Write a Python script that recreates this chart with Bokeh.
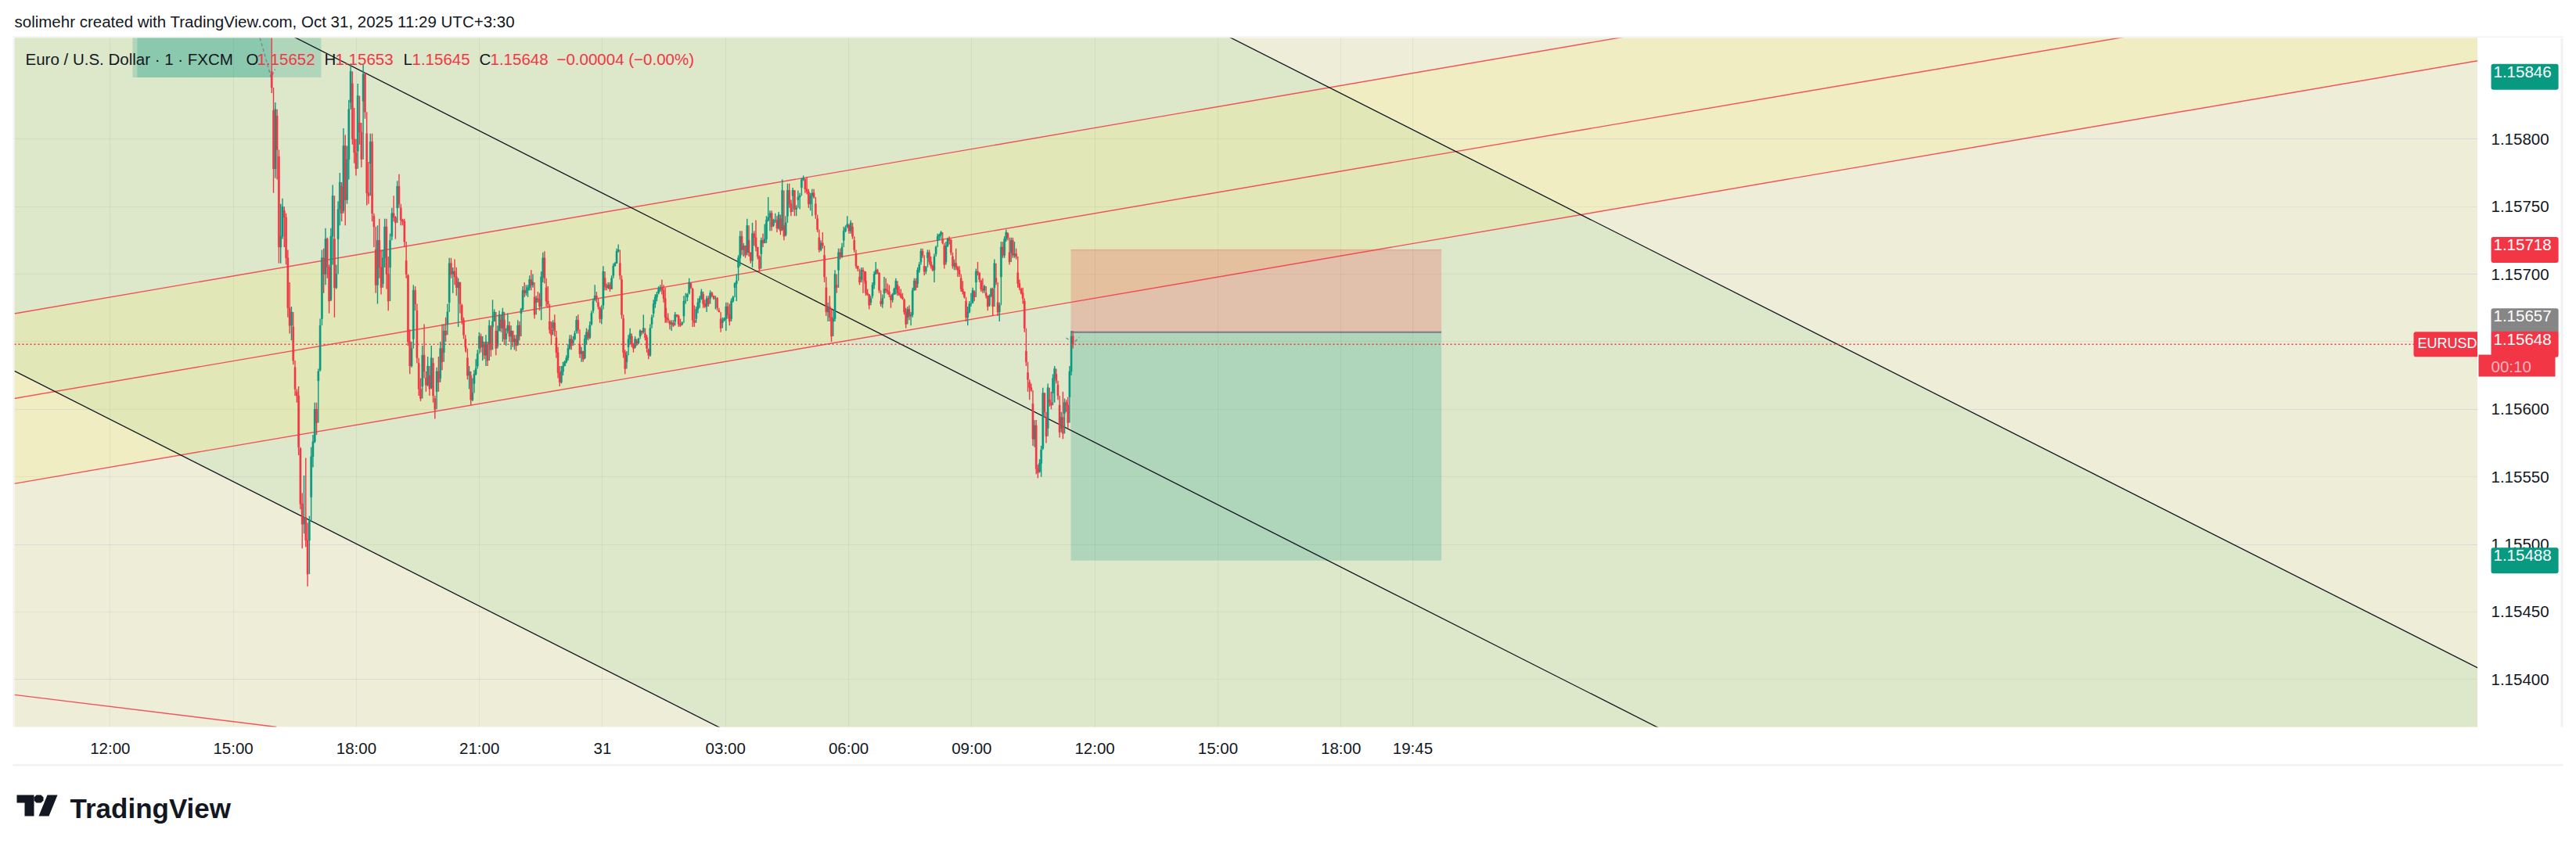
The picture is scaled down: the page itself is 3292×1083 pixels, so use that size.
from bokeh.core.properties import value
from bokeh.embed import file_html
from bokeh.layouts import column, row
from bokeh.models import ColumnDataSource, FixedTicker, Grid, Label, PolyAnnotation, Range1d, Span
from bokeh.plotting import figure
from bokeh.resources import INLINE

# prices are kept as points above 1.15000 (652 -> 1.15652), time as hours from Oct 30 00:00
a_high = [875,821,827,817,787,752,756,747,745,718, 694,676,661,631,613,617,571,538,551,564, 516,521,572,581,605,605,630,667,718,719,
          734,727,707,734,766,726,707,754,775,765, 808,803,795,829,855,841,823,800,841,812, 812,855,849,804,783,804,804,743,718,736,
          741,718,718,741,741,713,730,749,758,743, 769,774,749,741,741,710,699,659,650,692, 691,673,634,623,647,663,623,639,625,647,
          634,608,631,639,650,663,663,668,678,712, 712,705,711,705,697,694,677,668,652]
a_low = [834,760,771,770,708,708,726,720,707,668, 656,651,633,610,605,566,526,497,508,498, 469,503,535,557,575,581,621,629,667,686,
         692,697,671,681,707,668,689,726,736,739, 747,736,752,770,827,796,782,773,791,796, 779,828,815,751,752,782,739,720,686,678,
         697,685,693,705,689,673,705,728,739,726, 749,749,736,736,720,697,647,626,631,652, 673,634,610,606,617,623,613,617,610,616,
         605,593,613,613,623,629,642,650,663,679, 697,686,692,684,661,671,663,652,643]
a_close = [838,778,822,792,720,728,750,742,712,675, 662,672,636,615,610,572,530,515,520,503, 478,518,565,576,600,590,628,662,712,700,
           726,705,680,728,758,690,700,748,768,745, 795,755,785,822,850,800,790,778,832,805, 785,848,820,760,758,798,745,735,692,725,
           705,690,712,735,700,680,725,745,742,738, 765,752,740,739,724,700,650,632,645,688, 678,638,615,608,640,628,618,632,615,638,
           610,600,628,620,645,635,658,655,672,708, 700,702,698,690,694,678,666,655,646]

b_high = [652,638,632,625,623,629,637,644,657,656, 654,648,655,648,666,661,681,674,658,662, 673,666,675,666,660,671,665,662,658,655,
          655,666,665,675,691,694,692,692,699,703, 700,683,684,687,686,702,716,717,690,691, 665,665,666,670,653,646,632,632,635,636,
          640,648,655,655,654,658,669,670,648,646, 643,655,660,659,665,673,682,692,687,679, 675,677,706,697,693,694,694,699,708,709,
          719,722,708,696,667,644,643,655,660,654, 649,654,650,653,659,658,670,656,655,644, 663,670,681,685,687,691,692,696,692,690]
b_low = [642,622,615,603,606,619,625,632,645,642, 636,637,632,632,648,639,661,665,640,647, 658,657,650,648,647,658,650,644,646,644,
         643,648,651,671,673,683,684,683,688,688, 690,667,679,679,673,666,694,693,676,675, 656,648,660,654,638,623,617,619,625,632,
         634,636,644,644,649,652,658,656,638,635, 635,638,648,651,652,663,673,681,679,674, 664,663,677,688,688,689,687,689,699,706,
         708,716,696,667,638,626,635,646,648,646, 642,646,647,648,654,655,656,651,642,637, 639,663,671,675,680,686,687,685,679,664]
b_close = [645,625,628,607,612,626,630,641,654,646, 650,640,650,636,662,644,665,672,645,658, 670,660,672,652,656,662,654,658,650,652,
           647,662,654,674,688,686,688,690,696,692, 694,670,682,681,676,698,712,697,680,678, 659,655,664,658,642,627,620,628,632,635,
           638,645,652,647,651,656,666,659,641,643, 637,652,657,653,662,671,680,684,682,676, 667,674,702,691,690,692,689,697,706,708,
           717,718,699,670,642,630,640,652,656,648, 645,652,649,652,658,657,660,653,645,640, 660,668,678,683,685,689,690,688,682,668]

c_high = [675,671,665,666,666,672,670,670,667,665, 684,686,686,697,693,689,677,676,682,684, 689,685,681,684,684,688,687,684,684,683,
          673,667,668,668,679,679,678,682,684,694, 700,714,732,732,723,721,741,725,716,738, 732,740,720,714,727,730,737,743,757,747,
          747,741,745,743,746,741,770,736,743,767, 767,755,764,762,751,762,760,771,773,770, 772,763,760,763,763,752,741,727,725,731,
          714,690,679,684,675,673,703,692,719,719, 723,735,736,743,736,740,735,725,715,706, 698,705,705,702]
c_low = [664,664,659,658,661,665,668,661,661,663, 669,678,683,686,689,661,661,667,671,675, 681,675,675,672,676,682,683,681,674,673,
         672,657,664,665,658,667,662,667,679,690, 680,705,706,714,713,712,716,713,708,705, 721,717,711,701,715,720,723,723,739,732,
         732,736,738,731,733,729,733,725,729,743, 749,743,758,743,743,755,748,764,769,760, 759,749,747,743,756,741,731,716,717,719,
         694,669,665,665,650,665,665,686,703,711, 712,725,731,735,730,730,726,716,704,702, 692,696,686,693]
c_close = [667,666,663,664,662,670,669,663,662,664, 680,680,685,694,690,666,664,674,679,682, 687,678,676,682,678,686,684,682,682,675,
           672,660,666,667,676,670,665,680,683,693, 695,712,728,718,721,714,736,716,710,730, 727,720,713,704,725,723,726,740,742,745,
           735,740,740,734,744,732,762,728,738,762, 752,746,762,748,749,757,758,770,771,763, 761,752,758,760,757,744,733,718,723,721,
           698,672,676,668,654,667,700,690,716,713, 720,732,734,737,732,738,728,718,706,704, 694,703,702,695]

d_high = [702,689,685,684,694,702,709,704,701,680, 685,698,697,693,692,684,686,690,697,692, 691,689,686,681,675,676,677,672,690,697,
          697,705,709,719,719,706,706,718,718,713, 707,715,721,730,730,732,726,721,724,727, 728,726,713,711,719,706,706,697,695,687,
          680,676,680,686,690,687,704,709,701,695, 697,692,686,684,685,690,690,711,697,679, 679,724,724,728,733,730,716,727,727,724,
          719,701,696,689,690,680,643,627,620,619, 604,592,592,559,563,573,616,612,594,619, 607,613,626,632,626,618,603,598,613,608,
          607,609,632,658,658]
d_low = [684,684,674,679,684,689,700,700,686,676, 675,686,686,685,683,675,679,685,685,684, 684,682,681,670,660,668,666,662,668,688,
         688,693,701,709,712,699,700,712,707,704, 702,694,715,725,725,726,722,704,709,720, 722,714,704,703,703,698,698,687,685,682,
         665,662,671,676,679,680,694,699,694,687, 686,686,682,673,677,683,669,690,692,669, 665,698,712,712,724,725,707,716,712,712,
         711,690,688,685,678,657,632,613,607,613, 573,572,552,549,554,550,571,594,575,586, 602,600,612,605,619,607,579,586,578,597,
         598,586,609,625,645]
d_close = [686,685,677,682,692,700,703,701,688,678, 682,689,688,687,685,681,685,689,695,686, 685,683,682,672,663,674,669,670,688,695,
           690,703,707,717,714,702,705,716,709,706, 703,713,720,728,729,731,723,707,721,726, 725,716,706,708,705,703,700,689,687,683,
           668,672,678,678,688,683,702,701,696,689, 688,691,684,676,684,689,676,708,694,672, 677,720,714,726,731,727,709,725,714,715,
           713,693,690,686,682,660,635,622,616,614, 578,588,556,553,560,570,612,598,580,616, 605,603,623,630,621,610,583,594,582,605,
           603,590,628,654,648]

first_open = 850
# hand-read span of each stretch of candles on the time axis
a_span = (15.937, 20.659)
b_span = (20.668, 25.530)
c_span = (25.555, 30.394)
d_span = (30.418, 35.467)

time_ticks = [12, 15, 18, 21, 24, 27, 30, 33, 36, 39, 42, 43.75]
time_labels = ["12:00", "15:00", "18:00", "21:00", "31", "03:00", "06:00", "09:00", "12:00", "15:00", "18:00", "19:45"]
price_ticks = [1.154, 1.1545, 1.155, 1.1555, 1.156, 1.1565, 1.157, 1.1575, 1.158]

black_x = [9.667, 69.71]
black_upper = [1.163298, 1.154086]
black_middle = [1.159803, 1.150572]
black_lower = [1.156283, 1.147065]
red_upper = [1.156708, 1.159842]
red_middle = [1.156080, 1.159203]
red_lower = [1.155450, 1.158579]
red_short_x = [9.667, 16.05]
red_short_y = [1.153887, 1.153649]

entry_price = 1.15657
stop_price = 1.15718
target_price = 1.15488
last_price = 1.15648
position_x = (35.416, 44.449)
corner_x1 = (12.546, 17.143)
corner_x2 = (12.66, 15.92)
corner_bottom = 1.158455
arrow_a_x = [15.65, 15.923, 16.02]
arrow_a_y = [1.158748, 1.158455, 1.158517]
arrow_b_x = [35.30, 35.49, 35.62]
arrow_b_y = [1.156528, 1.156491, 1.156533]

GREEN = "#089981"
RED = "#f23645"
INK = "#131722"
EDGE = "#f2f2f2"
FONT = "Liberation Sans"


def bars(span, high, low, close, prev):
    n = len(close)
    step = (span[1] - span[0]) / (n - 1)
    rows = []
    for i in range(n):
        o = min(max(prev, low[i]), high[i])
        rows.append((span[0] + i * step, high[i], low[i], o, close[i], prev))
        prev = close[i]
    return rows, prev


rows = []
prev = first_open
for span, hi, lo, cl in [(a_span, a_high, a_low, a_close), (b_span, b_high, b_low, b_close),
                         (c_span, c_high, c_low, c_close), (d_span, d_high, d_low, d_close)]:
    part, prev = bars(span, hi, lo, cl, prev)
    rows += part


def px(v):
    return 1.15 + v / 100000


up = [r for r in rows if r[4] >= r[3]]
down = [r for r in rows if r[4] < r[3]]


def src(part):
    return ColumnDataSource(dict(
        x=[r[0] for r in part],
        top=[px(max(r[1], r[5])) for r in part],
        bottom=[px(min(r[2], r[5])) for r in part],
        body_top=[px(max(r[3], r[4])) for r in part],
        body_bottom=[px(min(r[3], r[4])) for r in part],
    ))


def blank(width, height):
    f = figure(width=width, height=height, output_backend="svg", toolbar_location=None,
               x_axis_location=None, y_axis_location=None, x_range=Range1d(0, 1), y_range=Range1d(0, 1),
               background_fill_color="white", border_fill_color="white", min_border=0)
    f.outline_line_color = None
    f.grid.visible = False
    return f


def label(f, text, x, y, color=INK, size="20.5px", y_units="canvas", **kw):
    f.add_layout(Label(x=x, y=y, x_units="canvas", y_units=y_units, text=text, text_color=color,
                       text_font=FONT, text_font_size=size, text_baseline="middle", **kw))


def poly(f, xs, ys, col, place=None):
    shape = PolyAnnotation(xs=xs, ys=ys, xs_units="canvas", ys_units="canvas",
                           fill_color=col, fill_alpha=1, line_color=None)
    if place:
        f.add_layout(shape, place)
    else:
        f.add_layout(shape)


# main pane, the time axis lives under it
p = figure(width=3148, height=928, output_backend="svg", toolbar_location=None,
           x_range=Range1d(9.667, 69.71), y_range=Range1d(1.153649, 1.158748),
           y_axis_location=None, background_fill_color="#eeeed8", border_fill_color="white",
           min_border_left=0, min_border_right=0, min_border_top=0, min_border_bottom=47)
p.outline_line_color = None

p.xaxis.ticker = FixedTicker(ticks=time_ticks)
p.xaxis.major_label_overrides = dict(zip(time_ticks, time_labels))
ax = p.xaxis[0]
ax.axis_line_color = None
ax.major_tick_line_color = None
ax.minor_tick_line_color = None
ax.major_label_text_font = FONT
ax.major_label_text_font_size = "20.5px"
ax.major_label_text_color = INK
ax.major_label_standoff = 9
p.xgrid[0].visible = True
price_grid = Grid(dimension=1, ticker=FixedTicker(ticks=price_ticks))
p.add_layout(price_grid)
for g in [p.xgrid[0], price_grid]:
    g.grid_line_color = "#2a2e39"
    g.grid_line_alpha = 0.06
    g.level = "guide"

# channels
p.patch(black_x + black_x[::-1], black_upper + black_lower[::-1], color="#dde7ca", line_color=None)
p.patch(black_x + black_x[::-1], red_upper + red_lower[::-1], color="#ffee53", alpha=0.15, line_color=None)

# long/short position boxes and the two boxes behind the legend
p.quad(left=[position_x[0]], right=[position_x[1]], top=[stop_price], bottom=[entry_price], color=RED, alpha=0.22, line_color=None)
p.quad(left=[position_x[0]], right=[position_x[1]], top=[entry_price], bottom=[target_price], color=GREEN, alpha=0.215, line_color=None)
p.line(position_x, [entry_price, entry_price], color="#787b86", line_width=2)
p.line(position_x, [stop_price, stop_price], color=RED, alpha=0.25, line_width=1.5)
p.quad(left=[corner_x1[0]], right=[corner_x1[1]], top=[1.159], bottom=[corner_bottom], color=GREEN, alpha=0.215, line_color=None)
p.quad(left=[corner_x2[0]], right=[corner_x2[1]], top=[1.159], bottom=[corner_bottom], color=GREEN, alpha=0.215, line_color=None)

for ys in [red_upper, red_middle, red_lower]:
    p.line(black_x, ys, color=RED, line_width=1.4, alpha=0.85)
p.line(red_short_x, red_short_y, color=RED, line_width=1.4, alpha=0.85)
for ys in [black_upper, black_middle, black_lower]:
    p.line(black_x, ys, color=INK, line_width=1.3)
for xs, ys in [(arrow_a_x, arrow_a_y), (arrow_b_x, arrow_b_y)]:
    p.line(xs, ys, color="#787b86", alpha=0.8, line_width=1.5, line_dash="4 3")

# candles
for part, col in [(up, GREEN), (down, RED)]:
    s = src(part)
    p.segment(x0="x", x1="x", y0="bottom", y1="top", source=s, color=col, line_width=1.4)
    p.vbar(x="x", width=0.04, top="body_top", bottom="body_bottom", source=s, color=col, line_color=col, line_width=0.5)

p.add_layout(Span(location=last_price, dimension="width", line_color=RED, line_width=1.5, line_dash="2 3"))

# legend inside the pane (pane canvas starts at page x=18, y=48)
label(p, "Euro / U.S. Dollar · 1 · FXCM", 14, 27)
for text, x, col in [("O", 296, INK), ("1.15652", 310, RED), ("H", 396, INK), ("1.15653", 410, RED),
                     ("L", 497, INK), ("1.15645", 508, RED), ("C", 594, INK), ("1.15648", 608, RED),
                     ("−0.00004 (−0.00%)", 693, RED)]:
    label(p, text, x, 27, col)
label(p, "EURUSD", 3066, last_price, "white", size="18px", y_units="data",
      background_fill_color=RED, padding=(5, 6, 5, 7), border_radius=3)

# price scale to the right of the pane; the row lines its frame up with the pane, so it shares the y range
price_fig = blank(126, 928)
price_fig.min_border_bottom = 47
price_fig.x_range = Range1d(0, 126)
price_fig.y_range = p.y_range
price_fig.text(x=[17] * len(price_ticks), y=price_ticks, text=[f"{t:.5f}" for t in price_ticks],
               text_font=value(FONT), text_font_size="20.5px", text_color=INK, text_baseline="middle")


def tag(text, price, col, y_offset=0, pad=(3, 9, 3, 16)):
    label(price_fig, text, 17, price, "white", y_units="data", y_offset=y_offset, background_fill_color=col,
          padding=pad, border_radius=3)


tag("1.15846", 1.15846, GREEN)
tag("1.15718", stop_price, RED)
tag("1.15657", entry_price, "#868686", y_offset=14)
poly(price_fig, [1, 99, 99, 1], [405, 405, 433, 433], RED)
tag("1.15648", last_price, RED)
label(price_fig, "00:10", 17, 420, "#f9b4bb")
tag("1.15488", target_price, GREEN)
poly(price_fig, [106, 109, 109, 106], [0, 0, 928, 928], EDGE, "below")

# page strips round the pane
header = blank(3292, 48)
label(header, "solimehr created with TradingView.com, Oct 31, 2025 11:29 UTC+3:30", 18, 27)
poly(header, [16, 3275, 3275, 16], [46, 46, 48, 48], EDGE)

left = blank(18, 928)
left.min_border_bottom = 47
poly(left, [16, 18, 18, 16], [0, 0, 928, 928], EDGE, "below")

footer = blank(3292, 107)
poly(footer, [16, 3275, 3275, 16], [0, 0, 3, 3], EDGE)
label(footer, "TradingView", 89, 57, "#131722", size="35px", text_font_style="bold")
poly(footer, [21, 43, 43, 31, 31, 21], [40, 40, 67, 67, 50, 50], INK)
poly(footer, [46, 52, 55, 55, 52, 46, 43, 43], [40, 40, 43, 47, 50, 50, 47, 43], INK)
poly(footer, [60, 73, 62, 49], [40, 40, 67, 67], INK)

page = column(header, row(left, p, price_fig, spacing=0), footer, spacing=0)

open("out.html", "w").write(file_html(page, INLINE))
